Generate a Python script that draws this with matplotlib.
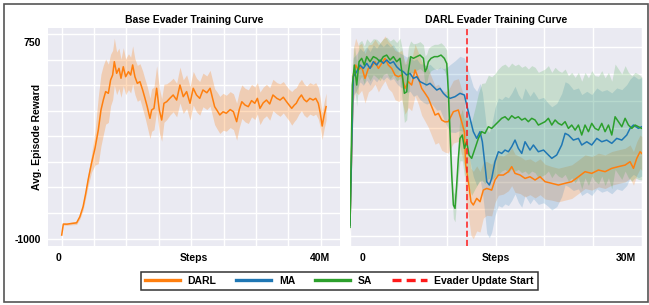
import matplotlib
matplotlib.use("Agg")
import matplotlib.pyplot as plt
from matplotlib.lines import Line2D
from matplotlib.patches import Rectangle
from matplotlib.transforms import ScaledTranslation
import numpy as np

plt.rcParams['font.family'] = ['Liberation Sans', 'DejaVu Sans']
plt.rcParams['font.weight'] = 'bold'
plt.rcParams['font.size'] = 7.5

# ---- base evader (left panel), steps in millions ----
base_steps = [0, 0.25, 0.8, 1.5, 2.3, 2.8, 3.3, 3.7, 4.1, 4.6, 5.14, 5.65, 6.06, 6.42, 6.78,
              7.2, 7.55, 7.86, 8.12, 8.48, 8.84, 9.15, 9.5, 9.87, 10.3, 10.64, 10.95, 11.3,
              11.67, 12.08, 12.49, 12.85, 13.2, 13.62, 13.88, 14.24, 14.65, 15.06, 15.43,
              15.78, 16.2, 16.7, 17.2, 17.74, 18.25, 18.76, 19.28, 19.8, 20.3, 20.8, 21.3,
              21.8, 22.4, 22.9, 23.6, 24.0, 24.4, 24.9, 25.4, 26.0, 26.5, 27.0, 27.4, 27.8,
              28.3, 28.8, 29.3, 29.8, 30.2, 30.6, 31.1, 31.6, 32.1, 32.6, 33.2, 33.7, 34.2,
              34.7, 35.1, 35.5, 35.9, 36.2, 36.6, 37.0, 37.4, 37.8, 38.3, 38.8, 39.2, 39.6,
              39.9, 40.2, 40.5, 40.8]
base_mean = [-969, -871, -872, -866, -860, -806, -716, -600, -470, -329, -195, -32, 146, 235, 310,
             295, 414, 458, 577, 473, 518, 429, 532, 443, 488, 458, 548, 443,
             384, 399, 325, 251, 176, 72, 146, 161, 340, 146, 57,
             206, 220, 251, 280, 235, 369, 265, 310, 206, 340, 280, 250,
             325, 300, 340, 176, 140, 102, 130, 117, 150, 131, 42, 150, 220,
             190, 176, 230, 206, 250, 161, 210, 235, 200, 280, 250, 235, 260,
             220, 190, 161, 190, 206, 250, 280, 240, 220, 250, 235, 250, 206,
             120, 3, 100, 176]
base_spread = [10, 10, 10, 12, 15, 20, 30, 40, 55, 80, 150, 300, 320, 310, 290,
               260, 230, 220, 210, 190, 180, 170, 170, 160, 160, 160, 170, 160,
               160, 160, 170, 170, 180, 180, 190, 190, 200, 200, 190,
               170, 160, 150, 150, 150, 160, 150, 150, 150, 150, 150, 150,
               150, 150, 160, 160, 165, 165, 165, 160, 160, 160, 165, 160, 150,
               150, 150, 145, 145, 140, 145, 140, 140, 145, 140, 140, 145, 140,
               140, 140, 150, 145, 140, 140, 140, 140, 140, 140, 140, 140, 140,
               130, 120, 120, 120]

# ---- DARL evader (right panel) ----
darl_steps = [0, 0.34, 0.58, 0.86, 1.2, 1.54, 1.89, 2.23, 2.57, 2.92, 3.26, 3.6, 3.94, 4.29,
              4.63, 4.97, 5.32, 5.66, 6.0, 6.34, 6.69, 7.03, 7.37, 7.72, 8.06, 8.4, 8.75,
              9.09, 9.43, 9.77, 10.1, 10.63, 11.14, 11.48, 11.76, 11.9, 12.17, 12.44, 12.68,
              13.03, 13.37, 13.71, 14.06, 14.57, 14.91, 15.26, 15.77, 16.29, 16.63, 16.97,
              17.49, 18.0, 18.51, 19.03, 19.54, 20.06, 20.75, 21.43, 22.1, 22.8, 23.49,
              24.17, 24.86, 25.55, 26.23, 26.92, 27.6, 28.29, 28.8, 29.15, 29.49, 29.83, 30.0]
darl_mean = [-880, 458, 547, 503, 532, 428, 517, 532, 577, 517, 562, 607, 547, 517,
             458, 443, 458, 339, 399, 369, 503, 428, 339, 295, 250, 176, 101,
             116, 57, 40, 42, 131, 146, 42, -47, -345, -493, -672, -701,
             -642, -672, -568, -553, -568, -478, -434, -434, -404, -359, -419,
             -434, -464, -449, -478, -449, -493, -508, -523, -508, -493, -449,
             -404, -419, -389, -404, -374, -359, -345, -315, -374, -285, -226, -241]
darl_spread = [60, 230, 240, 220, 210, 220, 210, 200, 200, 210, 200, 200, 210, 210,
               220, 220, 220, 230, 230, 230, 230, 230, 240, 250, 260, 260, 260,
               260, 270, 270, 280, 280, 280, 290, 300, 300, 300, 300, 300,
               290, 270, 250, 240, 230, 200, 180, 170, 170, 170, 170,
               165, 165, 160, 160, 160, 155, 150, 150, 150, 150, 150,
               150, 150, 150, 150, 150, 150, 150, 150, 150, 150, 150, 150]

ma_steps = [0, 0.34, 0.69, 1.03, 1.37, 1.72, 2.06, 2.4, 2.74, 3.09, 3.43, 3.77, 4.12, 4.46,
            4.8, 5.14, 5.49, 5.83, 6.17, 6.52, 6.86, 7.2, 7.55, 7.89, 8.23, 8.57, 8.92, 9.26,
            9.6, 9.95, 10.28, 10.8, 11.31, 11.76, 12.0, 12.34, 12.68, 13.03, 13.37, 13.61,
            13.88, 14.06, 14.33, 14.57, 14.91, 15.26, 15.6, 15.94, 16.29, 16.63, 16.97,
            17.31, 17.66, 18.0, 18.51, 18.86, 19.37, 19.9, 20.4, 20.75, 21.26, 21.77, 22.12,
            22.46, 22.97, 23.49, 23.83, 24.35, 24.86, 25.38, 25.89, 26.4, 26.92, 27.43,
            27.95, 28.46, 28.8, 29.15, 29.66, 30.0]
ma_mean = [-880, 443, 488, 547, 517, 562, 517, 577, 547, 592, 562, 592, 562, 577,
           532, 503, 488, 458, 473, 428, 443, 399, 384, 369, 384, 354, 324, 339,
           295, 265, 250, 265, 295, 280, 190, 72, -47, -107, -47, -137,
           -345, -493, -523, -464, -315, -226, -241, -211, -226, -181, -122,
           -196, -241, -137, -211, -166, -226, -211, -255, -285, -255, -166, -62,
           -77, -122, -107, -166, -137, -166, -107, -137, -122, -151, -107,
           -122, -77, -18, 12, -18, -3]
ma_spread = [60, 170, 160, 150, 150, 150, 150, 150, 150, 150, 150, 150, 150, 150,
             150, 150, 150, 160, 160, 160, 160, 160, 170, 170, 170, 170, 180, 190,
             220, 260, 300, 320, 330, 330, 350, 380, 400, 420, 430, 440,
             450, 460, 470, 480, 480, 480, 480, 480, 480, 480, 480,
             480, 480, 480, 480, 480, 470, 470, 460, 460, 460, 460, 460,
             460, 450, 450, 450, 450, 450, 450, 450, 450, 450, 450,
             450, 450, 440, 440, 440, 440]

sa_steps = [0, 0.24, 0.45, 0.69, 0.93, 1.2, 1.47, 1.72, 2.06, 2.4, 2.74, 3.09, 3.43, 3.77,
            4.12, 4.46, 4.8, 5.14, 5.38, 5.59, 5.83, 6.0, 6.24, 6.52, 6.86, 7.2, 7.55, 7.72,
            7.89, 8.06, 8.33, 8.68, 9.02, 9.36, 9.7, 9.95, 10.11, 10.28, 10.46, 10.63, 10.8,
            10.97, 11.14, 11.31, 11.55, 11.76, 11.99, 12.24, 12.51, 12.86, 13.2, 13.54,
            13.88, 14.23, 14.57, 14.91, 15.26, 15.6, 15.94, 16.29, 16.63, 16.97, 17.31,
            17.66, 18.0, 18.34, 18.69, 19.03, 19.37, 19.72, 20.06, 20.4, 20.75, 21.09,
            21.43, 21.77, 22.12, 22.46, 22.8, 23.15, 23.49, 23.83, 24.17, 24.52, 24.86,
            25.2, 25.55, 25.89, 26.23, 26.58, 26.92, 27.26, 27.6, 27.95, 28.29, 28.63,
            28.98, 29.32, 29.66, 30.0]
sa_mean = [-900, 369, 547, 369, 577, 607, 547, 622, 577, 622, 607, 577, 622, 636,
           592, 622, 577, 607, 458, 295, 309, 488, 622, 607, 622, 636, 607, 488,
           517, 577, 607, 622, 622, 636, 607, 560, 309, -47, -434, -701, -731,
           -523, -285, -107, -77, -196, -137, -255, -285, -196, -107, -47,
           -62, -3, -18, 12, 42, 72, 86, 57, 95, 72, 86,
           57, 72, 42, 72, 57, 12, 27, 42, 72, 12, 57,
           27, 12, 42, -18, 12, -33, 12, -77, 12, -47, 27,
           -18, -33, 27, -47, 12, -77, 86, 42, -3, 72, 12,
           -18, 12, -3, -18]
sa_spread = [60, 190, 180, 190, 170, 160, 170, 160, 170, 160, 170, 170, 160, 160,
             170, 160, 170, 180, 230, 260, 250, 220, 140, 130, 120, 120, 120, 140,
             130, 120, 110, 110, 110, 110, 110, 120, 150, 150, 130, 120, 120,
             130, 160, 200, 230, 250, 270, 300, 330, 360, 400, 430,
             450, 460, 460, 460, 470, 470, 470, 470, 470, 470, 470,
             470, 470, 470, 470, 470, 470, 470, 470, 470, 470, 470,
             470, 470, 470, 470, 470, 470, 470, 480, 470, 480, 470,
             470, 480, 470, 480, 470, 480, 470, 470, 470, 470, 470,
             470, 470, 470, 460]

update_start = 12.0
C_DARL, C_MA, C_SA, C_RED = '#ff7f0e', '#1f77b4', '#2ca02c', '#ff1a1a'

fig = plt.figure(figsize=(6.49, 3.05), dpi=100)
ax1 = fig.add_axes([0.0744, 0.1948, 0.4495, 0.7125])
ax2 = fig.add_axes([0.5393, 0.1948, 0.4495, 0.7125])


def band(ax, x, m, s, c, a):
    x, m, s = np.array(x), np.array(m), np.array(s)
    ax.fill_between(x, m - s, m + s, color=c, alpha=a, lw=0)
    ax.plot(x, m, color=c, lw=1.1)


band(ax1, base_steps, base_mean, base_spread, C_DARL, 0.27)
band(ax2, darl_steps, darl_mean, darl_spread, C_DARL, 0.22)
band(ax2, ma_steps, ma_mean, ma_spread, C_MA, 0.18)
band(ax2, sa_steps, sa_mean, sa_spread, C_SA, 0.18)
ax2.axvline(update_start, color=C_RED, lw=1.1, dashes=(4, 2))

for ax in (ax1, ax2):
    ax.set_facecolor('#eaeaf2')
    for sp in ax.spines.values():
        sp.set_visible(False)
    ax.set_ylim(-1063, 875)
    ax.xaxis.remove_overlapping_locs = False
    ax.yaxis.remove_overlapping_locs = False
    ax.grid(False, which='major')
    ax.tick_params(which='both', length=0)
    ax.tick_params(axis='x', pad=5)
    ax.tick_params(axis='y', pad=5)
    ax.set_axisbelow(True)

ax1.set_xlim(-2.07, 42.95)
ax2.set_xlim(0, 30)
ax1.set_xticks(np.arange(0, 41, 5), minor=True)
ax1.set_yticks(-1000 + 228 * np.arange(9), minor=True)
ax2.set_xticks(np.arange(0, 31, 5), minor=True)
ax2.set_yticks(-978 + 241.2 * np.arange(8), minor=True)
for ax in (ax1, ax2):
    ax.grid(True, which='minor', color='white', lw=1.0)

ax1.set_xticks([0, 40], ['0', '40M'])
ax1.set_yticks([750, -1000], ['750', '-1000'])
ax2.set_xticks([0, 30], ['0', '30M'])
ax2.set_yticks([])

# nudge tick labels to where they sit in the reference
shifts = {ax1: (-3.4, -1), ax2: (12.7, -16)}
for ax, (d0, d1) in shifts.items():
    labs = ax.get_xticklabels()
    for lab, d in zip(labs, (d0, d1)):
        lab.set_transform(lab.get_transform() + ScaledTranslation(d / 100, 0, fig.dpi_scale_trans))

ax1.set_title('Base Evader Training Curve', fontweight='bold', fontsize=7.5, pad=3.6)
ax2.set_title('DARL Evader Training Curve', fontweight='bold', fontsize=7.5, pad=3.6)
ax1.set_ylabel('Avg. Episode Reward', fontweight='bold')
ax1.yaxis.set_label_coords(-0.02, 0.5)
for ax in (ax1, ax2):
    ax.set_xlabel('Steps', fontweight='bold')
    ax.xaxis.set_label_coords(0.5, -0.032)

handles = [Line2D([], [], color=C_DARL, lw=2.4),
           Line2D([], [], color=C_MA, lw=2.4),
           Line2D([], [], color=C_SA, lw=2.4),
           Line2D([], [], color=C_RED, lw=2.4, dashes=(2.7, 1.55))]
leg = fig.legend(handles, ['DARL', 'MA', 'SA', 'Evader Update Start'], ncol=4,
                 loc='center', bbox_to_anchor=(0.5228, 0.0793), fancybox=False,
                 edgecolor='#333333', framealpha=1, handlelength=3.4, handletextpad=0.7,
                 columnspacing=1.9, borderpad=0.4, prop={'weight': 'bold', 'size': 7.5})
leg.get_frame().set_linewidth(1.1)

fig.add_artist(Rectangle((0.0054, 0.0108), 0.9936, 0.9767, transform=fig.transFigure,
                         fill=False, ec='#555555', lw=1.2))

fig.savefig('out.png', dpi=100)
